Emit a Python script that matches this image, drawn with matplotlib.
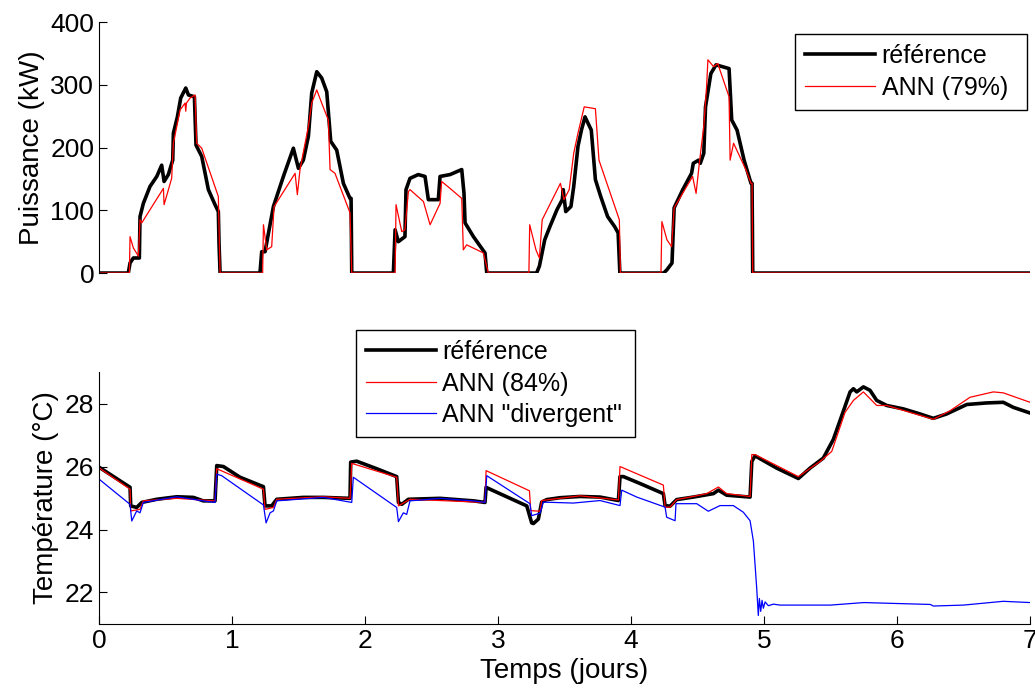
import matplotlib.pyplot as plt

plt.rcParams['font.family'] = ['Liberation Sans', 'DejaVu Sans']

# puissance (kW) - reference
t_p_ref = [0, 0.22, 0.233, 0.258, 0.303, 0.308, 0.333, 0.383, 0.434, 0.471, 0.489, 0.521, 0.554,
           0.559, 0.589, 0.614, 0.652, 0.672, 0.717, 0.729, 0.772, 0.822, 0.872, 0.897, 0.902, 0.91,
           1.21, 1.223, 1.248, 1.311, 1.386, 1.461, 1.499, 1.536, 1.574, 1.599, 1.637, 1.674, 1.712,
           1.742, 1.787, 1.837, 1.887, 1.895, 1.90,
           2.213, 2.226, 2.25, 2.30, 2.308, 2.338, 2.40, 2.451, 2.476, 2.551, 2.564, 2.639, 2.727,
           2.744, 2.752, 2.815, 2.902, 2.915,
           3.29, 3.311, 3.351, 3.39, 3.443, 3.483, 3.49, 3.509, 3.548, 3.569, 3.601, 3.627, 3.654,
           3.701, 3.732, 3.772, 3.824, 3.877, 3.903, 3.916,
           4.245, 4.269, 4.308, 4.324, 4.389, 4.455, 4.468, 4.508, 4.521, 4.547, 4.56, 4.60, 4.639,
           4.737, 4.757, 4.797, 4.85, 4.902, 4.91, 4.915, 7.0]
p_ref = [0, 0, 16, 24, 24, 90, 111, 138, 154, 172, 146, 157, 180,
         223, 249, 279, 295, 284, 281, 204, 186, 133, 109, 98, 48, 0,
         0, 34, 34, 106, 154, 199, 167, 180, 218, 287, 321, 311, 289,
         210, 196, 143, 119, 119, 0,
         0, 69, 50, 58, 133, 151, 157, 154, 117, 117, 154, 157, 165,
         127, 80, 58, 32, 0,
         0, 11, 53, 74, 101, 117, 133, 98, 106, 138, 202, 228, 249,
         228, 149, 122, 90, 74, 64, 0,
         0, 5, 16, 104, 133, 159, 175, 180, 175, 191, 265, 318, 332,
         326, 244, 228, 180, 143, 143, 0, 0]

# puissance (kW) - ANN (79%)
t_p_ann = [0, 0.228, 0.233, 0.258, 0.296, 0.308, 0.321, 0.484, 0.489, 0.546, 0.559, 0.609, 0.647,
           0.652, 0.657, 0.684, 0.722, 0.734, 0.772, 0.897, 0.91,
           1.23, 1.236, 1.261, 1.298, 1.316, 1.474, 1.491, 1.511, 1.574, 1.599, 1.637, 1.674, 1.724,
           1.737, 1.774, 1.887, 1.90,
           2.226, 2.233, 2.276, 2.30, 2.326, 2.338, 2.439, 2.489, 2.564, 2.576, 2.639, 2.727, 2.739,
           2.764, 2.89, 2.927,
           3.232, 3.238, 3.285, 3.311, 3.332, 3.469, 3.496, 3.535, 3.569, 3.601, 3.648, 3.732, 3.759,
           3.912, 3.92,
           4.225, 4.232, 4.27, 4.305, 4.324, 4.463, 4.489, 4.515, 4.547, 4.568, 4.578, 4.621, 4.652,
           4.737, 4.745, 4.771, 4.863, 4.902, 4.91, 4.915, 7.0]
p_ann = [0, 0, 58, 40, 27, 85, 80, 135, 109, 151, 207, 260, 271,
         258, 271, 279, 284, 207, 199, 122, 0,
         0, 77, 37, 42, 106, 159, 125, 165, 234, 271, 292, 271, 244,
         165, 159, 96, 0,
         0, 109, 66, 69, 130, 133, 114, 77, 111, 146, 135, 119, 37,
         45, 32, 0,
         0, 77, 37, 24, 85, 143, 117, 133, 191, 223, 265, 262, 180,
         85, 0,
         0, 82, 53, 42, 104, 154, 127, 178, 234, 297, 340, 329, 334,
         281, 180, 207, 165, 143, 143, 0, 0]

# temperature (degC) - reference
t_T_ref = [0, 0.233, 0.238, 0.283, 0.321, 0.434, 0.584, 0.709, 0.784, 0.872, 0.885, 0.935, 1.06,
           1.236, 1.248, 1.298, 1.336, 1.536, 1.687, 1.887, 1.892, 1.937, 2.088, 2.238, 2.251, 2.276,
           2.326, 2.564, 2.815, 2.902, 2.91, 2.94, 3.216, 3.253, 3.266, 3.303, 3.328, 3.366, 3.466,
           3.617, 3.767, 3.905, 3.917, 3.943, 4.068, 4.243, 4.256, 4.293, 4.343, 4.468, 4.619, 4.657,
           4.719, 4.895, 4.908, 4.932, 5.095, 5.258, 5.346, 5.446, 5.521, 5.584, 5.647, 5.672, 5.697,
           5.747, 5.797, 5.847, 5.922, 6.048, 6.173, 6.273, 6.373, 6.524, 6.674, 6.799, 6.874, 7.0]
T_ref = [25.98, 25.34, 24.75, 24.70, 24.86, 24.96, 25.04, 25.02, 24.91, 24.91, 26.03, 26.0, 25.66,
         25.36, 24.75, 24.75, 24.96, 25.02, 25.02, 24.99, 26.14, 26.17, 25.93, 25.68, 24.86, 24.80,
         24.96, 24.99, 24.91, 24.86, 25.34, 25.28, 24.75, 24.21, 24.19, 24.33, 24.87, 24.95, 25.01,
         25.05, 25.03, 24.92, 25.68, 25.68, 25.46, 25.14, 24.76, 24.74, 24.95, 25.03, 25.14, 25.25,
         25.09, 25.03, 26.16, 26.34, 25.95, 25.62, 25.95, 26.27, 26.86, 27.61, 28.37, 28.47, 28.37,
         28.53, 28.42, 28.1, 27.94, 27.83, 27.67, 27.53, 27.67, 27.97, 28.02, 28.04, 27.88, 27.70]

# temperature (degC) - ANN (84%)
t_T_ann = [0, 0.233, 0.238, 0.308, 0.333, 0.584, 0.872, 0.885, 1.236, 1.248, 1.311, 1.336, 1.687,
           1.887, 1.90, 2.238, 2.251, 2.338, 2.902, 2.91, 3.236, 3.246, 3.316, 3.328, 3.617, 3.905,
           3.917, 4.243, 4.256, 4.293, 4.343, 4.468, 4.569, 4.657, 4.719, 4.895, 4.908, 4.932, 5.258,
           5.421, 5.509, 5.609, 5.672, 5.747, 5.847, 5.922, 6.273, 6.398, 6.549, 6.724, 6.799, 7.0]
T_ann = [25.96, 25.28, 24.59, 24.64, 24.91, 24.99, 24.91, 25.93, 25.28, 24.64, 24.70, 24.96, 25.04,
         24.99, 26.1, 25.66, 24.75, 24.96, 24.86, 25.87, 25.23, 24.60, 24.58, 24.92, 25.07, 24.94,
         26.0, 25.41, 24.71, 24.71, 24.95, 25.05, 25.14, 25.35, 25.14, 25.05, 26.38, 26.38, 25.68,
         26.16, 26.48, 27.72, 28.1, 28.37, 27.94, 27.94, 27.5, 27.77, 28.2, 28.37, 28.34, 28.04]

# temperature (degC) - ANN "divergent"
t_T_div = [0, 0.233, 0.246, 0.283, 0.308, 0.333, 0.584, 0.784, 0.872, 0.885, 0.922, 1.236, 1.256,
           1.286, 1.311, 1.336, 1.687, 1.90, 1.912, 2.238, 2.251, 2.288, 2.313, 2.338, 2.564, 2.815,
           2.902, 2.915, 3.24, 3.253, 3.316, 3.341, 3.566, 3.767, 3.917, 3.93, 4.043, 4.256, 4.268,
           4.331, 4.338, 4.494, 4.581, 4.669, 4.769, 4.844, 4.895, 4.92, 4.945, 4.957, 4.965, 4.975,
           4.985, 4.995, 5.008, 5.033, 5.07, 5.12, 5.5, 5.75, 6.25, 6.273, 6.5, 6.799, 7.0]
T_div = [25.6, 24.8, 24.27, 24.59, 24.53, 24.86, 25.04, 24.91, 24.86, 25.76, 25.71, 24.78, 24.21,
         24.53, 24.59, 24.91, 25.02, 24.86, 25.66, 24.7, 24.25, 24.53, 24.48, 24.91, 24.99, 24.91,
         24.86, 25.71, 24.82, 24.44, 24.52, 24.87, 24.84, 24.92, 24.76, 25.25, 25.03, 24.71, 24.39,
         24.28, 24.82, 24.82, 24.58, 24.76, 24.76, 24.55, 24.28, 23.63, 22.13, 21.27, 21.81, 21.4,
         21.75, 21.5, 21.7, 21.58, 21.63, 21.6, 21.6, 21.68, 21.62, 21.57, 21.6, 21.72, 21.68]

fig = plt.figure(figsize=(10.35, 6.93), dpi=100)
ax1 = fig.add_axes([0.0957, 0.606, 0.8995, 0.362])
ax2 = fig.add_axes([0.0957, 0.0996, 0.8995, 0.3635])

lw_ref = 2.6
lw_ann = 0.9
leg_kw = dict(loc='upper left', mode='expand', fontsize=18, fancybox=False,
              edgecolor='black', framealpha=1, borderaxespad=0,
              handlelength=2.8, handletextpad=0.25, labelspacing=0.3, borderpad=0.4)

ax1.plot(t_p_ref, p_ref, color='black', lw=lw_ref, label='référence')
ax1.plot(t_p_ann, p_ann, color='red', lw=lw_ann, label='ANN (79%)')
ax1.set_xlim(0, 7)
ax1.set_ylim(0, 400)
ax1.set_yticks([0, 100, 200, 300, 400])
ax1.set_ylabel('Puissance (kW)', fontsize=20)
for s in ['top', 'right', 'bottom']:
    ax1.spines[s].set_visible(False)
ax1.set_xticks([])
ax1.tick_params(axis='y', direction='in', length=6, labelsize=19)
ax1.legend(bbox_to_anchor=(0.748, 0.641, 0.249, 0.311), **leg_kw)

ax2.plot(t_T_ref, T_ref, color='black', lw=lw_ref, label='référence')
ax2.plot(t_T_ann, T_ann, color='red', lw=lw_ann, label='ANN (84%)')
ax2.plot(t_T_div, T_div, color='blue', lw=lw_ann, label='ANN "divergent"')
ax2.set_xlim(0, 7)
ax2.set_ylim(21, 29)
ax2.set_yticks([22, 24, 26, 28])
ax2.set_xticks(range(8))
ax2.set_xlabel('Temps (jours)', fontsize=20)
ax2.set_ylabel('Température (°C)', fontsize=20)
for s in ['top', 'right']:
    ax2.spines[s].set_visible(False)
ax2.tick_params(direction='in', length=6, labelsize=19)
ax2.legend(bbox_to_anchor=(0.276, 0.738, 0.3, 0.429), **leg_kw)

plt.savefig('out.png', dpi=100)
